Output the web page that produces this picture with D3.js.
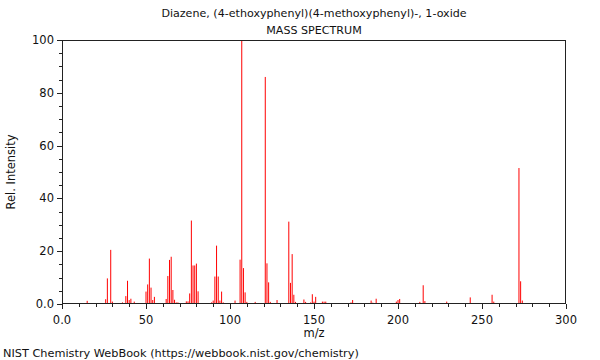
<!DOCTYPE html>
<html>
<head>
<meta charset="utf-8">
<script src="https://cdn.jsdelivr.net/npm/d3@7/dist/d3.min.js"></script>
<style>
  html, body { margin: 0; padding: 0; background: #fff; }
  svg { display: block; font-family: "DejaVu Sans", sans-serif; }
</style>
</head>
<body>
<svg id="chart" width="600" height="360"></svg>
<script>
const titleLines = ["Diazene, (4-ethoxyphenyl)(4-methoxyphenyl)-, 1-oxide", "MASS SPECTRUM"];
const xLabel = "m/z";
const yLabel = "Rel. Intensity";
const footer = "NIST Chemistry WebBook (https://webbook.nist.gov/chemistry)";

const mz = [15, 26, 27, 29, 30, 36, 38, 39, 40, 41, 43, 50, 51, 52, 53, 54, 55, 62, 63, 64, 65, 66, 67, 68, 69,
  74, 75, 76, 77, 78, 79, 80, 81, 89, 90, 91, 92, 93, 94, 95, 96, 103, 106, 107, 108, 109, 110, 115,
  121, 122, 123, 124, 128, 135, 136, 137, 138, 139, 144, 145, 148, 149, 150, 151, 155, 156, 157,
  172, 173, 184, 185, 187, 199, 200, 201, 213, 215, 216, 229, 243, 256, 257, 272, 273, 274];
const intensity = [1.2, 1.8, 9.7, 20.5, 0.9, 0.6, 3.0, 8.8, 1.5, 2.0, 0.9, 4.7, 7.4, 17.2, 6.2, 1.5, 2.7, 1.9, 10.6, 16.7, 17.9, 5.3, 1.6, 0.6, 0.6,
  1.0, 1.0, 4.0, 31.6, 14.6, 14.6, 15.3, 4.8, 0.6, 1.3, 10.4, 22.1, 10.4, 1.3, 4.7, 0.6, 1.3, 16.8, 100, 13.6, 4.4, 0.8, 0.8,
  86, 15.4, 8.2, 0.8, 1.5, 31.2, 8.0, 18.9, 3.5, 0.8, 1.7, 0.8, 0.6, 3.7, 0.9, 2.7, 0.9, 0.9, 0.9,
  0.6, 1.5, 1.3, 0.5, 2.0, 0.9, 1.5, 1.9, 0.8, 7.1, 1.1, 0.9, 2.5, 3.5, 0.9, 51.5, 8.6, 1.3];

const xTicks = [0, 50, 100, 150, 200, 250, 300];
const xTickLabels = ["0.0", "50", "100", "150", "200", "250", "300"];
const yTicks = [0, 20, 40, 60, 80, 100];
const yTickLabels = ["0.0", "20", "40", "60", "80", "100"];

const svg = d3.select("#chart");
const L = 62, R = 566, T = 40, B = 304;
const x = d3.scaleLinear().domain([0, 300]).range([L, R]);
const y = d3.scaleLinear().domain([0, 100]).range([B, T]);

// peaks
const peaks = mz.map((m, i) => ({ m, v: intensity[i] }));
svg.append("g").selectAll("line").data(peaks).join("line")
  .attr("x1", d => x(d.m)).attr("x2", d => x(d.m))
  .attr("y1", y(0)).attr("y2", d => y(d.v))
  .attr("stroke", "#ff0000").attr("stroke-width", 1);

// frame
svg.append("rect").attr("x", L + 0.5).attr("y", T + 0.5)
  .attr("width", R - L - 1).attr("height", B - T - 1)
  .attr("fill", "none").attr("stroke", "#222").attr("stroke-width", 1);

// x axis ticks
const xMinor = d3.range(0, 301, 10);
svg.append("g").selectAll("line").data(xMinor).join("line")
  .attr("x1", d => Math.round(x(d)) + 0.5).attr("x2", d => Math.round(x(d)) + 0.5)
  .attr("y1", B).attr("y2", d => B + (d % 50 === 0 ? 5 : 3))
  .attr("stroke", "#222");
svg.append("g").selectAll("text").data(xTicks).join("text")
  .attr("x", d => x(d)).attr("y", B + 20)
  .attr("text-anchor", "middle").attr("font-size", 11.5).attr("fill", "#111")
  .text((d, i) => xTickLabels[i]);

// y axis ticks
const yMinor = d3.range(0, 101, 5);
svg.append("g").selectAll("line").data(yMinor).join("line")
  .attr("y1", d => Math.round(y(d)) + 0.5).attr("y2", d => Math.round(y(d)) + 0.5)
  .attr("x1", L).attr("x2", d => L - (d % 20 === 0 ? 5 : 3))
  .attr("stroke", "#222");
svg.append("g").selectAll("text").data(yTicks).join("text")
  .attr("x", L - 8).attr("y", d => y(d) + 4)
  .attr("text-anchor", "end").attr("font-size", 11.5).attr("fill", "#111")
  .text((d, i) => yTickLabels[i]);

// titles
svg.append("text").attr("x", (L + R) / 2).attr("y", 17).attr("text-anchor", "middle")
  .attr("font-size", 11.1).attr("fill", "#111").text(titleLines[0]);
svg.append("text").attr("x", (L + R) / 2).attr("y", 34).attr("text-anchor", "middle")
  .attr("font-size", 11.1).attr("fill", "#111").text(titleLines[1]);

// axis labels
svg.append("text").attr("x", (L + R) / 2).attr("y", 337).attr("text-anchor", "middle")
  .attr("font-size", 11.5).attr("fill", "#111").text(xLabel);
svg.append("text").attr("transform", `translate(15,${(T + B) / 2}) rotate(-90)`)
  .attr("text-anchor", "middle").attr("font-size", 11.5).attr("fill", "#111").text(yLabel);

// footer
svg.append("text").attr("x", 3).attr("y", 357).attr("font-size", 11.3).attr("fill", "#111").text(footer);
</script>
</body>
</html>
